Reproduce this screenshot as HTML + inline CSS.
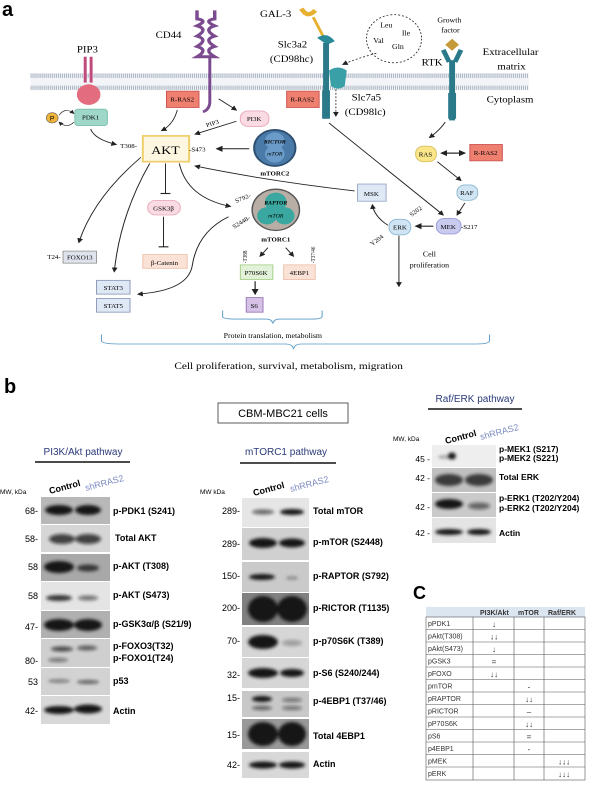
<!DOCTYPE html>
<html><head><meta charset="utf-8"><style>
html,body{margin:0;padding:0;background:#fff;}
svg{display:block;}
.s{font-family:"Liberation Serif",serif;}
.a{font-family:"Liberation Sans",sans-serif;}
</style></head><body>
<svg width="600" height="795" viewBox="0 0 600 795" xmlns="http://www.w3.org/2000/svg">
<defs>
<marker id="ah" markerWidth="6" markerHeight="6" refX="5" refY="3" orient="auto"><path d="M0,0 L6,3 L0,6 z" fill="#222"/></marker>
<filter id="bl" x="-30%" y="-100%" width="160%" height="300%"><feGaussianBlur stdDeviation="1.5"/></filter>
</defs>

<text x="2" y="16" class="a" font-size="20" font-weight="bold">a</text>
<g transform="matrix(0.985,0,0,0.86,0,0)">
<rect x="31" y="85" width="506" height="20" fill="#f2f4f7"/>
<line x1="31" y1="88" x2="537" y2="88" stroke="#a9b4c2" stroke-width="5" stroke-dasharray="1 1"/>
<line x1="31" y1="102" x2="537" y2="102" stroke="#a9b4c2" stroke-width="5" stroke-dasharray="1 1"/>

<text x="78" y="61" class="s" font-size="11">PIP3</text>
<rect x="85" y="66" width="3" height="30" fill="#c04a7a"/><rect x="91" y="66" width="3" height="30" fill="#c04a7a"/>
<circle cx="90" cy="110" r="12" fill="#e36c7e"/>
<rect x="76" y="127" width="33" height="19" rx="3" fill="#9fd8c8" stroke="#7bbfae"/>
<text x="92" y="139" class="s" font-size="7" text-anchor="middle">PDK1</text>
<circle cx="53" cy="137" r="6" fill="#f0b43a" stroke="#555" stroke-width=".6"/>
<text x="53" y="140" class="a" font-size="7" text-anchor="middle">P</text>
<path d="M60,134 Q66,124 75,132" fill="none" stroke="#333" stroke-width=".8" marker-end="url(#ah)"/>
<path d="M75,142 Q68,150 60,142" fill="none" stroke="#333" stroke-width=".8" marker-end="url(#ah)"/>
<path d="M92,150 Q96,162 118,168" fill="none" stroke="#222" stroke-width="1" marker-end="url(#ah)"/>

<text x="158" y="44" class="s" font-size="11">CD44</text>
<path d="M200,12 L200,22 Q212,24 200,30 Q212,34 200,42 Q212,46 200,54 Q212,58 200,66 L218,66 Q206,58 218,54 Q206,46 218,42 Q206,34 218,30 Q206,24 218,22 L218,12" fill="none" stroke="#7b4a8f" stroke-width="3.5"/>
<path d="M213,66 L213,120 Q212,128 206,130" fill="none" stroke="#7b4a8f" stroke-width="3"/>
<rect x="169" y="106" width="33" height="19" fill="#ef8070" stroke="#c55"/>
<text x="185" y="118" class="s" font-size="7" text-anchor="middle">R-RAS2</text>
<path d="M222,115 L240,128" stroke="#222" stroke-width="1" marker-end="url(#ah)"/>
<path d="M180,128 Q176,145 164,152" fill="none" stroke="#222" stroke-width="1" marker-end="url(#ah)"/>
<rect x="244" y="129" width="29" height="18" rx="8" fill="#fbdbe3" stroke="#e6a8b8"/>
<text x="258" y="141" class="s" font-size="7" text-anchor="middle">PI3K</text>
<path d="M240,141 L198,156" stroke="#222" stroke-width="1" marker-end="url(#ah)"/>
<text x="210" y="148" class="s" font-size="7" transform="rotate(-20 210 148)">PIP3</text>

<rect x="145" y="158" width="47" height="30" fill="#fdf6e0" stroke="#efcf6a" stroke-width="2"/>
<text x="168" y="179" class="s" font-size="14" text-anchor="middle">AKT</text>
<text x="122" y="172" class="s" font-size="7">T308-</text>
<text x="192" y="176" class="s" font-size="7">-S473</text>
<circle cx="279" cy="172" r="21" fill="#4a7aa8" stroke="#2d4e70" stroke-width="2"/>
<circle cx="279" cy="164" r="10" fill="#6b9bc8"/><circle cx="279" cy="179" r="10" fill="#6b9bc8"/>
<text x="279" y="167" class="s" font-size="6" font-style="italic" font-weight="bold" text-anchor="middle">RICTOR</text>
<text x="279" y="181" class="s" font-size="6" font-style="italic" text-anchor="middle">mTOR</text>
<text x="279" y="204" class="s" font-size="7" font-weight="bold" text-anchor="middle">mTORC2</text>
<line x1="253" y1="173" x2="220" y2="173" stroke="#222" stroke-width="1.2" marker-end="url(#ah)"/>

<text x="264" y="20" class="s" font-size="11">GAL-3</text>
<path d="M306,10 Q312,22 320,12" fill="none" stroke="#e8b030" stroke-width="5"/>
<line x1="318" y1="20" x2="328" y2="42" stroke="#e8b030" stroke-width="3"/>
<path d="M322,44 Q332,36 340,48 L332,52 z" fill="#2a8a98"/>
<text x="282" y="55" class="s" font-size="11">Slc3a2</text>
<text x="274" y="72" class="s" font-size="11">(CD98hc)</text>
<rect x="328" y="50" width="6" height="88" fill="#2a7a8a"/>
<rect x="327" y="105" width="8" height="33" fill="#2a7a8a"/>
<path d="M334,82 Q343,75 352,82 L350,100 Q343,106 336,100 z" fill="#3aa0a8"/>
<line x1="341" y1="104" x2="341" y2="135" stroke="#333" stroke-width="1" stroke-dasharray="2 2" marker-end="url(#ah)"/>
<circle cx="400" cy="45" r="28" fill="none" stroke="#333" stroke-dasharray="2 2"/>
<text x="386" y="32" class="s" font-size="8">Leu</text><text x="408" y="41" class="s" font-size="8">Ile</text>
<text x="379" y="50" class="s" font-size="8">Val</text><text x="398" y="57" class="s" font-size="8">Gln</text>
<path d="M382,62 Q362,68 348,75" fill="none" stroke="#333" stroke-dasharray="2 2" marker-end="url(#ah)"/>
<text x="357" y="117" class="s" font-size="11">Slc7a5</text>
<text x="350" y="134" class="s" font-size="11">(CD98lc)</text>
<rect x="291" y="106" width="33" height="19" fill="#ef8070" stroke="#c55"/>
<text x="307" y="118" class="s" font-size="7" text-anchor="middle">R-RAS2</text>
<path d="M334,143 L450,250" stroke="#222" stroke-width="1" marker-end="url(#ah)"/>

<text x="444" y="26" class="s" font-size="8">Growth</text><text x="448" y="38" class="s" font-size="8">factor</text>
<path d="M459,45 L466,52 L459,59 L452,52 z" fill="#c49a3a"/>
<path d="M450,58 L456,72 M468,58 L462,72" stroke="#2a7a8a" stroke-width="5"/>
<rect x="456" y="70" width="6" height="70" fill="#2a7a8a"/>
<rect x="455" y="108" width="8" height="30" fill="#2a7a8a"/>
<text x="428" y="76" class="s" font-size="11">RTK</text>
<text x="490" y="64" class="s" font-size="11">Extracellular</text>
<text x="505" y="81" class="s" font-size="11">matrix</text>
<text x="494" y="119" class="s" font-size="11">Cytoplasm</text>
<path d="M452,142 Q446,152 436,160" fill="none" stroke="#222" stroke-width="1" marker-end="url(#ah)"/>
<rect x="422" y="170" width="21" height="18" rx="8" fill="#fbe78a" stroke="#d8c060"/>
<text x="432" y="182" class="s" font-size="7" text-anchor="middle">RAS</text>
<line x1="449" y1="178" x2="472" y2="178" stroke="#222" stroke-width="1.2" marker-end="url(#ah)"/>
<line x1="466" y1="178" x2="448" y2="178" stroke="#222" stroke-width="1.2" marker-end="url(#ah)"/>
<rect x="477" y="168" width="33" height="19" fill="#ef8070" stroke="#c55"/>
<text x="493" y="180" class="s" font-size="7" text-anchor="middle">R-RAS2</text>
<path d="M444,188 L468,210" stroke="#222" stroke-width="1" marker-end="url(#ah)"/>
<rect x="464" y="215" width="21" height="18" rx="8" fill="#cfe5f3" stroke="#8fb8d0"/>
<text x="474" y="227" class="s" font-size="7" text-anchor="middle">RAF</text>
<path d="M472,236 L464,250" stroke="#222" stroke-width="1" marker-end="url(#ah)"/>
<rect x="443" y="254" width="25" height="18" rx="8" fill="#c9cbee" stroke="#9a9ed8"/>
<text x="455" y="266" class="s" font-size="7" text-anchor="middle">MEK</text>
<text x="468" y="266" class="s" font-size="7">-S217</text>
<line x1="440" y1="263" x2="422" y2="263" stroke="#222" stroke-width="1.2" marker-end="url(#ah)"/>
<rect x="395" y="255" width="22" height="18" rx="8" fill="#cfe5f3" stroke="#8fb8d0"/>
<text x="406" y="267" class="s" font-size="7" text-anchor="middle">ERK</text>
<text x="418" y="252" class="s" font-size="7" transform="rotate(-40 418 252)">S202</text>
<text x="378" y="286" class="s" font-size="7" transform="rotate(-40 378 286)">Y204</text>
<path d="M394,262 Q380,252 378,238" fill="none" stroke="#222" stroke-width="1" marker-end="url(#ah)"/>
<rect x="363" y="214" width="29" height="20" fill="#dfe8f5" stroke="#9aa8c8"/>
<text x="377" y="228" class="s" font-size="7" text-anchor="middle">MSK</text>
<path d="M360,222 Q270,210 198,193" fill="none" stroke="#222" stroke-width="1" marker-end="url(#ah)"/>
<line x1="405" y1="274" x2="405" y2="333" stroke="#222" stroke-width="1" marker-end="url(#ah)"/>
<text x="436" y="298" class="s" font-size="8" text-anchor="middle">Cell</text>
<text x="436" y="311" class="s" font-size="8" text-anchor="middle">proliferation</text>

<line x1="168" y1="190" x2="168" y2="225" stroke="#222" stroke-width="1"/><line x1="163" y1="225" x2="173" y2="225" stroke="#222" stroke-width="1.3"/>
<rect x="150" y="233" width="33" height="17" rx="8" fill="#fbdbe3" stroke="#e6a8b8"/>
<text x="166" y="245" class="s" font-size="7" text-anchor="middle">GSK3β</text>
<line x1="166" y1="252" x2="166" y2="287" stroke="#222" stroke-width="1"/><line x1="161" y1="287" x2="171" y2="287" stroke="#222" stroke-width="1.3"/>
<rect x="145" y="296" width="45" height="16" fill="#fbe2d6" stroke="#eec0aa"/>
<text x="167" y="308" class="s" font-size="7" text-anchor="middle">β-Catenin</text>
<path d="M143,183 Q95,230 80,282" fill="none" stroke="#222" stroke-width="1" marker-end="url(#ah)"/>
<rect x="64" y="292" width="34" height="14" fill="#dfe3ec" stroke="#999"/>
<text x="81" y="302" class="s" font-size="7" text-anchor="middle">FOXO13</text>
<text x="48" y="301" class="s" font-size="7">T24-</text>
<path d="M152,190 Q122,250 116,316" fill="none" stroke="#222" stroke-width="1" marker-end="url(#ah)"/>
<rect x="98" y="326" width="34" height="16" fill="#dfe8f5" stroke="#8c9ab8"/>
<text x="115" y="337" class="s" font-size="7" text-anchor="middle">STAT3</text>
<rect x="98" y="347" width="34" height="16" fill="#dfe8f5" stroke="#8c9ab8"/>
<text x="115" y="358" class="s" font-size="7" text-anchor="middle">STAT5</text>
<path d="M182,190 Q190,230 234,240" fill="none" stroke="#222" stroke-width="1" marker-end="url(#ah)"/>
<path d="M232,252 Q200,270 195,310 Q190,338 140,342" fill="none" stroke="#222" stroke-width="1" marker-end="url(#ah)"/>
<circle cx="280" cy="244" r="24" fill="#b8aea6" stroke="#555" stroke-width="1.5"/>
<circle cx="280" cy="235" r="11" fill="#3aa8a0"/><circle cx="271" cy="251" r="10" fill="#3aa8a0"/><circle cx="289" cy="251" r="10" fill="#3aa8a0"/>
<text x="280" y="238" class="s" font-size="6" font-style="italic" font-weight="bold" text-anchor="middle">RAPTOR</text>
<text x="280" y="253" class="s" font-size="6" font-style="italic" text-anchor="middle">mTOR</text>
<text x="280" y="281" class="s" font-size="7" font-weight="bold" text-anchor="middle">mTORC1</text>
<text x="240" y="236" class="s" font-size="7" transform="rotate(-25 240 236)">S792-</text>
<text x="238" y="266" class="s" font-size="7" transform="rotate(-35 238 266)">S2448-</text>
<path d="M272,288 L264,298" stroke="#222" stroke-width="1" marker-end="url(#ah)"/>
<path d="M290,288 L298,298" stroke="#222" stroke-width="1" marker-end="url(#ah)"/>
<rect x="244" y="308" width="33" height="17" fill="#e2f2d8" stroke="#a8d08a"/>
<text x="260" y="320" class="s" font-size="7" text-anchor="middle">P70S6K</text>
<rect x="288" y="308" width="32" height="17" fill="#fbe2d6" stroke="#eec0aa"/>
<text x="304" y="320" class="s" font-size="7" text-anchor="middle">4EBP1</text>
<text x="251" y="306" class="s" font-size="6" transform="rotate(-90 251 306)">-T388</text>
<text x="320" y="306" class="s" font-size="6" transform="rotate(-90 320 306)">-T37/46</text>
<line x1="259" y1="327" x2="259" y2="342" stroke="#222" stroke-width="1.2" marker-end="url(#ah)"/>
<rect x="250" y="346" width="17" height="17" fill="#d5c2e6" stroke="#9a78b8"/>
<text x="258" y="358" class="s" font-size="7" text-anchor="middle">S6</text>
<path d="M226,361 L226,368 Q226,371 240,371 L270,371 Q276,371 277,376 Q278,371 284,371 L316,371 Q327,371 327,368 L327,361" fill="none" stroke="#5a9ac8" stroke-width="1"/>
<text x="277" y="393" class="s" font-size="8" text-anchor="middle">Protein translation, metabolism</text>
<path d="M103,389 L103,396 Q103,400 120,400 L290,400 Q297,400 298,406 Q299,400 306,400 L484,400 Q497,400 497,396 L497,389" fill="none" stroke="#5a9ac8" stroke-width="1"/>
<text x="293" y="429" class="s" font-size="11.5" text-anchor="middle">Cell proliferation, survival, metabolism, migration</text>
</g>

<!-- panel b -->
<text x="4" y="393" class="a" font-size="20" font-weight="bold">b</text>
<rect x="218" y="403" width="130" height="20" fill="#fff" stroke="#333" stroke-width=".8"/>
<text x="283" y="417" class="a" font-size="11" text-anchor="middle">CBM-MBC21 cells</text>
<text x="475" y="402" class="a" font-size="10" fill="#2a3a7a" text-anchor="middle">Raf/ERK pathway</text>
<line x1="428" y1="409" x2="522" y2="409" stroke="#111" stroke-width="1.5"/>
<text x="83" y="455" class="a" font-size="10" fill="#2a3a7a" text-anchor="middle">PI3K/Akt pathway</text>
<line x1="35" y1="462" x2="130" y2="462" stroke="#111" stroke-width="1.5"/>
<text x="286" y="455" class="a" font-size="10" fill="#2a3a7a" text-anchor="middle">mTORC1 pathway</text>
<line x1="240" y1="463" x2="336" y2="463" stroke="#111" stroke-width="1.5"/>

<!-- left blots -->
<text x="0" y="494" class="a" font-size="6.5">MW, kDa</text>
<text x="50" y="494" class="a" font-size="9" font-weight="bold" transform="rotate(-15 50 494)">Control</text>
<text x="86" y="491" class="a" font-size="9" fill="#7a88c0" transform="rotate(-15 86 491)">shRRAS2</text>
<g class="a" font-size="9">
<rect x="41" y="497" width="69" height="27" fill="#b8b8b8"/>
<rect x="41" y="525" width="69" height="27" fill="#d6d6d6"/>
<rect x="41" y="554" width="69" height="27" fill="#a8a8a8"/>
<rect x="41" y="582" width="69" height="28" fill="#e4e4e4"/>
<rect x="41" y="611" width="69" height="27" fill="#b0b0b0"/>
<rect x="41" y="639" width="69" height="28" fill="#cfcfcf"/>
<rect x="41" y="668" width="69" height="27" fill="#d2d2d2"/>
<rect x="41" y="696" width="69" height="28" fill="#d8d8d8"/>
<g filter="url(#bl)" fill="#151515">
<ellipse cx="59" cy="510" rx="14" ry="5"/><ellipse cx="88" cy="510" rx="13" ry="5"/>
<ellipse cx="62" cy="539" rx="13" ry="5" opacity=".75"/><ellipse cx="88" cy="539" rx="13" ry="5" opacity=".75"/>
<ellipse cx="59" cy="567" rx="15" ry="6"/><ellipse cx="88" cy="568" rx="11" ry="3.5" opacity=".8"/>
<ellipse cx="59" cy="598" rx="13" ry="3" opacity=".85"/><ellipse cx="88" cy="598" rx="10" ry="2.5" opacity=".55"/>
<ellipse cx="59" cy="625" rx="15" ry="6"/><ellipse cx="88" cy="625" rx="14" ry="6"/>
<ellipse cx="62" cy="649" rx="11" ry="2.5" opacity=".7"/><ellipse cx="87" cy="648" rx="10" ry="2.5" opacity=".6"/>
<ellipse cx="58" cy="660" rx="10" ry="2" opacity=".5"/>
<ellipse cx="59" cy="681" rx="11" ry="1.6" opacity=".5"/><ellipse cx="88" cy="682" rx="11" ry="1.8" opacity=".65"/>
<ellipse cx="59" cy="710" rx="15" ry="4"/><ellipse cx="88" cy="709" rx="14" ry="4.5"/>
</g>
<g text-anchor="end"><text x="38" y="514">68-</text><text x="38" y="542">58-</text><text x="38" y="570">58</text><text x="38" y="599">58</text><text x="38" y="630">47-</text><text x="38" y="664">80-</text><text x="38" y="685">53</text><text x="38" y="714">42-</text></g>
<g font-weight="bold"><text x="113" y="514">p-PDK1 (S241)</text><text x="115" y="541">Total AKT</text><text x="113" y="569">p-AKT (T308)</text><text x="113" y="598">p-AKT (S473)</text><text x="113" y="627">p-GSK3α/β (S21/9)</text><text x="113" y="649">p-FOXO3(T32)</text><text x="113" y="661">p-FOXO1(T24)</text><text x="113" y="684">p53</text><text x="113" y="714">Actin</text></g>
</g>

<!-- middle blots -->
<text x="200" y="494" class="a" font-size="6.5">MW  kDa</text>
<text x="254" y="496" class="a" font-size="9" font-weight="bold" transform="rotate(-15 254 496)">Control</text>
<text x="291" y="492" class="a" font-size="9" fill="#7a88c0" transform="rotate(-15 291 492)">shRRAS2</text>
<g class="a" font-size="9">
<rect x="242" y="498" width="67" height="29" fill="#e6e6e6"/>
<rect x="242" y="528" width="67" height="32" fill="#d0d0d0"/>
<rect x="242" y="562" width="67" height="30" fill="#cacaca"/>
<rect x="242" y="593" width="67" height="32" fill="#808080"/>
<rect x="242" y="627" width="67" height="30" fill="#d6d6d6"/>
<rect x="242" y="658" width="67" height="30" fill="#d6d6d6"/>
<rect x="242" y="691" width="67" height="26" fill="#c8c8c8"/>
<rect x="242" y="719" width="67" height="30" fill="#999"/>
<rect x="242" y="752" width="67" height="26" fill="#d8d8d8"/>
<g filter="url(#bl)" fill="#151515">
<ellipse cx="263" cy="512" rx="11" ry="2.5" opacity=".6"/><ellipse cx="292" cy="512" rx="12" ry="3"/>
<ellipse cx="263" cy="543" rx="14" ry="5"/><ellipse cx="292" cy="543" rx="13" ry="4.5"/>
<ellipse cx="262" cy="577" rx="13" ry="3"/><ellipse cx="292" cy="578" rx="6" ry="1.5" opacity=".4"/>
<ellipse cx="263" cy="609" rx="15" ry="13"/><ellipse cx="292" cy="609" rx="15" ry="13"/>
<ellipse cx="263" cy="642" rx="15" ry="7"/><ellipse cx="292" cy="643" rx="10" ry="3" opacity=".3"/>
<ellipse cx="263" cy="673" rx="15" ry="5"/><ellipse cx="292" cy="673" rx="12" ry="4"/>
<ellipse cx="262" cy="699" rx="10" ry="3"/><ellipse cx="292" cy="700" rx="10" ry="2" opacity=".5"/>
<ellipse cx="262" cy="708" rx="10" ry="2" opacity=".6"/><ellipse cx="292" cy="708" rx="10" ry="2" opacity=".5"/>
<ellipse cx="263" cy="734" rx="15" ry="12"/><ellipse cx="292" cy="734" rx="14" ry="12"/>
<ellipse cx="263" cy="765" rx="14" ry="3.5"/><ellipse cx="292" cy="765" rx="13" ry="3.5"/>
</g>
<g text-anchor="end"><text x="240" y="514">289-</text><text x="240" y="547">289-</text><text x="240" y="579">150-</text><text x="240" y="611">200-</text><text x="240" y="644">70-</text><text x="240" y="678">32-</text><text x="240" y="701">15-</text><text x="240" y="738">15-</text><text x="240" y="768">42-</text></g>
<g font-weight="bold"><text x="313" y="514">Total mTOR</text><text x="313" y="545">p-mTOR (S2448)</text><text x="313" y="579">p-RAPTOR (S792)</text><text x="313" y="611">p-RICTOR (T1135)</text><text x="313" y="644">p-p70S6K (T389)</text><text x="313" y="676">p-S6 (S240/244)</text><text x="313" y="704">p-4EBP1 (T37/46)</text><text x="313" y="739">Total 4EBP1</text><text x="313" y="767">Actin</text></g>
</g>

<!-- right blots -->
<text x="393" y="441" class="a" font-size="6.5">MW, kDa</text>
<text x="446" y="444" class="a" font-size="9" font-weight="bold" transform="rotate(-15 446 444)">Control</text>
<text x="481" y="440" class="a" font-size="9" fill="#7a88c0" transform="rotate(-15 481 440)">shRRAS2</text>
<g class="a" font-size="8.5">
<rect x="432" y="445" width="64" height="22" fill="#eeeeee"/>
<rect x="432" y="468" width="64" height="24" fill="#c0c0c0"/>
<rect x="432" y="493" width="64" height="24" fill="#cacaca"/>
<rect x="432" y="518" width="64" height="25" fill="#e4e4e4"/>
<g filter="url(#bl)" fill="#151515">
<ellipse cx="452" cy="456" rx="4" ry="3.5"/><ellipse cx="445" cy="457" rx="7" ry="1.5" opacity=".4"/>
<ellipse cx="449" cy="480" rx="14" ry="6" opacity=".8"/><ellipse cx="479" cy="480" rx="14" ry="6" opacity=".8"/>
<ellipse cx="449" cy="504" rx="14" ry="5"/><ellipse cx="479" cy="506" rx="11" ry="3.5" opacity=".55"/>
<ellipse cx="449" cy="532" rx="14" ry="3"/><ellipse cx="479" cy="532" rx="12" ry="3"/>
</g>
<g text-anchor="end"><text x="430" y="462">45 -</text><text x="430" y="481">42 -</text><text x="430" y="510">42 -</text><text x="430" y="536">42 -</text></g>
<g font-weight="bold"><text x="499" y="452">p-MEK1 (S217)</text><text x="499" y="461">p-MEK2 (S221)</text><text x="499" y="480">Total ERK</text><text x="499" y="501">p-ERK1 (T202/Y204)</text><text x="499" y="511">p-ERK2 (T202/Y204)</text><text x="499" y="536">Actin</text></g>
</g>

<!-- panel c -->
<text x="413" y="599" class="a" font-size="18" font-weight="bold">C</text>
<g class="a" font-size="7" fill="#333">
<rect x="426" y="607" width="159" height="10" fill="#dce6f1"/>
<text x="480" y="615" font-weight="bold">PI3K/Akt</text><text x="518" y="615" font-weight="bold">mTOR</text><text x="548" y="615" font-weight="bold">Raf/ERK</text>
<g stroke="#555" stroke-width=".6">
<rect x="426" y="617" width="159" height="163" fill="none"/>
<line x1="473" y1="617" x2="473" y2="780"/><line x1="514" y1="617" x2="514" y2="780"/><line x1="544" y1="617" x2="544" y2="780"/>
<line x1="426" y1="629.5" x2="585" y2="629.5"/><line x1="426" y1="642" x2="585" y2="642"/><line x1="426" y1="654.5" x2="585" y2="654.5"/><line x1="426" y1="667" x2="585" y2="667"/><line x1="426" y1="679.5" x2="585" y2="679.5"/><line x1="426" y1="692" x2="585" y2="692"/><line x1="426" y1="704.5" x2="585" y2="704.5"/><line x1="426" y1="717" x2="585" y2="717"/><line x1="426" y1="729.5" x2="585" y2="729.5"/><line x1="426" y1="742" x2="585" y2="742"/><line x1="426" y1="754.5" x2="585" y2="754.5"/><line x1="426" y1="767" x2="585" y2="767"/>
</g>
<text x="428" y="626">pPDK1</text><text x="428" y="638.5">pAkt(T308)</text><text x="428" y="651">pAkt(S473)</text><text x="428" y="663.5">pGSK3</text><text x="428" y="676">pFOXO</text><text x="428" y="688.5">pmTOR</text><text x="428" y="701">pRAPTOR</text><text x="428" y="713.5">pRICTOR</text><text x="428" y="726">pP70S6K</text><text x="428" y="738.5">pS6</text><text x="428" y="751">p4EBP1</text><text x="428" y="763.5">pMEK</text><text x="428" y="776">pERK</text>
<g text-anchor="middle" font-size="8"><text x="494" y="627">↓</text><text x="494" y="639.5">↓↓</text><text x="494" y="652">↓</text><text x="494" y="664.5">=</text><text x="494" y="677">↓↓</text>
<text x="529" y="689.5">-</text><text x="529" y="702">↓↓</text><text x="529" y="714.5">–</text><text x="529" y="727">↓↓</text><text x="529" y="739.5">=</text><text x="529" y="752">-</text>
<text x="564" y="764.5">↓↓↓</text><text x="564" y="777">↓↓↓</text></g>
</g>
</svg>
</body></html>
